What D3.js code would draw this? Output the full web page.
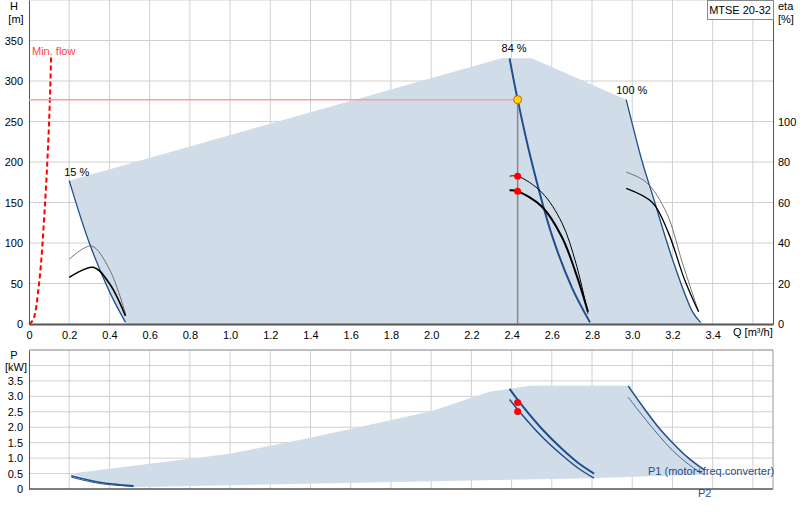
<!DOCTYPE html>
<html><head><meta charset="utf-8">
<script src="https://cdn.jsdelivr.net/npm/d3@7"></script>
<style>body{margin:0;background:#fff}text{font-family:Arial,"Liberation Sans",sans-serif;font-size:11px}</style>
</head><body><svg id="c" width="800" height="520"></svg>
<script>
const qTicks=[0,0.2,0.4,0.6,0.8,1.0,1.2,1.4,1.6,1.8,2.0,2.2,2.4,2.6,2.8,3.0,3.2,3.4];
const hTicks=[0,50,100,150,200,250,300,350];
const etaTicks=[0,20,40,60,80,100];
const pTicks=[0,0.5,1.0,1.5,2.0,2.5,3.0,3.5];
const hArea=[[0.2,177],[2.35,328],[2.5,328],[2.97,277],[3.05,200],[3.1,160],[3.2,80],[3.3,15],[3.35,0],[0.49,0],[0.48,2],[0.4,40],[0.3,100],[0.2,177]];
const h15=[[0.2,177],[0.3,100],[0.4,40],[0.48,2]];
const h84=[[2.39,328],[2.43,277],[2.5,200],[2.6,110],[2.7,45],[2.79,2]];
const h100=[[2.97,277],[3.05,200],[3.1,160],[3.2,80],[3.3,15],[3.34,2]];
const etaThin15=[[0.2,32],[0.31,38.5],[0.4,27],[0.48,5]];
const etaThick15=[[0.2,23],[0.32,28],[0.4,20],[0.48,4]];
const etaThin84=[[2.39,73],[2.43,73],[2.55,65],[2.65,50],[2.72,30],[2.78,5]];
const etaThick84=[[2.39,66],[2.43,65.5],[2.55,58],[2.65,43],[2.72,25],[2.78,6]];
const etaThin100=[[2.97,75],[3.07,70],[3.17,55],[3.25,30],[3.33,6]];
const etaThick100=[[2.97,67],[3.1,60],[3.18,45],[3.26,22],[3.33,6]];
const minFlow=[[0,0],[0.02,5],[0.05,50],[0.08,150],[0.1,250],[0.11,330]];
const dutyQ=2.43, dutyH=277, dutyEta=[73,65.5], dutyP=[2.8,2.51];
const pArea=[[0.21,0.5],[1.0,1.14],[1.4,1.66],[2.0,2.52],[2.29,3.15],[2.49,3.34],[2.99,3.34],[3.06,2.6],[3.13,2.0],[3.2,1.5],[3.28,1.0],[3.36,0.6],[3.35,0.47],[2.79,0.35],[0.51,0.06],[0.35,0.2],[0.21,0.5]];
const p1_15=[[0.21,0.43],[0.35,0.22],[0.52,0.10]];
const p2_15=[[0.21,0.38],[0.35,0.18],[0.52,0.08]];
const p1_84=[[2.39,3.24],[2.45,2.72],[2.55,1.95],[2.65,1.3],[2.73,0.85],[2.81,0.5]];
const p2_84=[[2.39,2.9],[2.45,2.42],[2.55,1.7],[2.65,1.1],[2.73,0.68],[2.81,0.35]];
const p1_100=[[2.98,3.33],[3.06,2.6],[3.13,2.0],[3.2,1.5],[3.28,1.0],[3.36,0.61]];
const p2_100=[[2.98,2.97],[3.06,2.3],[3.13,1.75],[3.2,1.25],[3.28,0.8],[3.36,0.45]];

const svg=d3.select("#c");
const x=d3.scaleLinear().domain([0,3.7]).range([29,773]);
const yH=d3.scaleLinear().domain([0,400]).range([324,0]);
const yE=d3.scaleLinear().domain([0,160]).range([324,0]);
const yP=d3.scaleLinear().domain([0,4.5]).range([489,350]);
const grid="#d0d0d0", blue="#1f4e8c", fill="#d0dce8";
const vq=d3.range(0.2,3.61,0.2);
vq.forEach(q=>{svg.append("line").attr("x1",x(q)).attr("x2",x(q)).attr("y1",0).attr("y2",324).attr("stroke",grid);
 svg.append("line").attr("x1",x(q)).attr("x2",x(q)).attr("y1",350).attr("y2",489).attr("stroke",grid);});
d3.range(50,401,50).forEach(h=>svg.append("line").attr("x1",29).attr("x2",773).attr("y1",yH(h)).attr("y2",yH(h)).attr("stroke",grid));
d3.range(0.5,4.6,0.5).forEach(p=>svg.append("line").attr("x1",29).attr("x2",773).attr("y1",yP(p)).attr("y2",yP(p)).attr("stroke",grid));
const line=(ys)=>d3.line().x(d=>x(d[0])).y(d=>ys(d[1])).curve(d3.curveCatmullRom);
svg.append("path").attr("d",d3.line().x(d=>x(d[0])).y(d=>yH(d[1]))(hArea)).attr("fill",fill);
svg.append("path").attr("d",d3.line().x(d=>x(d[0])).y(d=>yP(d[1]))(pArea)).attr("fill",fill);
const ax=svg.append("g").attr("transform","translate(0,324)").call(d3.axisBottom(x).tickValues(qTicks).tickSize(0).tickFormat(d=>d===0?"0":d3.format(".1f")(d)));
ax.select(".domain").attr("stroke","#555").attr("stroke-width",2);
ax.selectAll("text").attr("dy","1.1em").attr("fill","#000");
const ah=svg.append("g").attr("transform","translate(29,0)").call(d3.axisLeft(yH).tickValues(hTicks).tickSize(0).tickPadding(6));
ah.select(".domain").attr("stroke","#555");ah.selectAll("text").attr("fill","#000");
const ae=svg.append("g").attr("transform","translate(773,0)").call(d3.axisRight(yE).tickValues(etaTicks).tickSize(0).tickPadding(5));
ae.select(".domain").attr("stroke","#555");ae.selectAll("text").attr("fill","#000");
const ap=svg.append("g").attr("transform","translate(29,0)").call(d3.axisLeft(yP).tickValues(pTicks).tickSize(0).tickPadding(6).tickFormat(d=>d===0?"0":d3.format(".1f")(d)));
ap.select(".domain").attr("stroke","#555");ap.selectAll("text").attr("fill","#000");
svg.append("line").attr("x1",29).attr("x2",773).attr("y1",489).attr("y2",489).attr("stroke","#555").attr("stroke-width",1.5);
svg.append("line").attr("x1",773).attr("x2",773).attr("y1",350).attr("y2",489).attr("stroke","#999");
svg.append("line").attr("x1",29).attr("x2",773).attr("y1",350).attr("y2",350).attr("stroke","#999");
[h15,h84,h100].forEach((d,i)=>svg.append("path").attr("d",line(yH)(d)).attr("fill","none").attr("stroke",blue).attr("stroke-width",i==1?2:1.3));
[[etaThin15,0.8],[etaThick15,1.6],[etaThin84,1],[etaThick84,2],[etaThin100,0.8],[etaThick100,1.3]].forEach(([d,w])=>
 svg.append("path").attr("d",line(yE)(d)).attr("fill","none").attr("stroke",w<1?"#555":"#000").attr("stroke-width",w));
svg.append("path").attr("d",line(yH)(minFlow)).attr("fill","none").attr("stroke","#f00").attr("stroke-width",2).attr("stroke-dasharray","5,3");
svg.append("line").attr("x1",29).attr("x2",x(dutyQ)).attr("y1",yH(dutyH)).attr("y2",yH(dutyH)).attr("stroke","#f9a0a0").attr("stroke-width",1.5);
svg.append("line").attr("x1",x(dutyQ)).attr("x2",x(dutyQ)).attr("y1",yH(dutyH)).attr("y2",324).attr("stroke","#888").attr("stroke-width",1.5);
dutyEta.forEach(e=>svg.append("circle").attr("cx",x(dutyQ)).attr("cy",yE(e)).attr("r",3.5).attr("fill","#f00"));
svg.append("circle").attr("cx",x(dutyQ)).attr("cy",yH(dutyH)).attr("r",4).attr("fill","#ffe000").attr("stroke","#e05000");
[[p1_15,1.6],[p2_15,1],[p1_84,2],[p2_84,1.5],[p1_100,1.5],[p2_100,0.8]].forEach(([d,w])=>
 svg.append("path").attr("d",line(yP)(d)).attr("fill","none").attr("stroke",blue).attr("stroke-width",w));
dutyP.forEach(p=>svg.append("circle").attr("cx",x(dutyQ)).attr("cy",yP(p)).attr("r",3.5).attr("fill","#f00"));
const t=(s,xx,yy,o={})=>svg.append("text").attr("x",xx).attr("y",yy).attr("fill",o.c||"#000").attr("text-anchor",o.a||"start").text(s);
t("H",14,10,{a:"middle"});t("[m]",16,23,{a:"middle"});
t("eta",778,10);t("[%]",778,23);
t("P",14,359,{a:"middle"});t("[kW]",16,371,{a:"middle"});
t("Min. flow",32,55,{c:"#f44"});
t("15 %",x(0.2)-5,yH(177)-5);
t("84 %",x(2.39)-8,yH(328)-6);
t("100 %",x(2.97)-10,yH(277)-6);
t("Q [m³/h]",733,336);
svg.append("rect").attr("x",707.5).attr("y",0.5).attr("width",66).attr("height",19).attr("fill","#fff").attr("stroke","#888");
t("MTSE 20-32",740,14,{a:"middle"});
t("P1 (motor+freq.converter)",648,475,{c:blue});
t("P2",698,497,{c:blue});
</script></body></html>
